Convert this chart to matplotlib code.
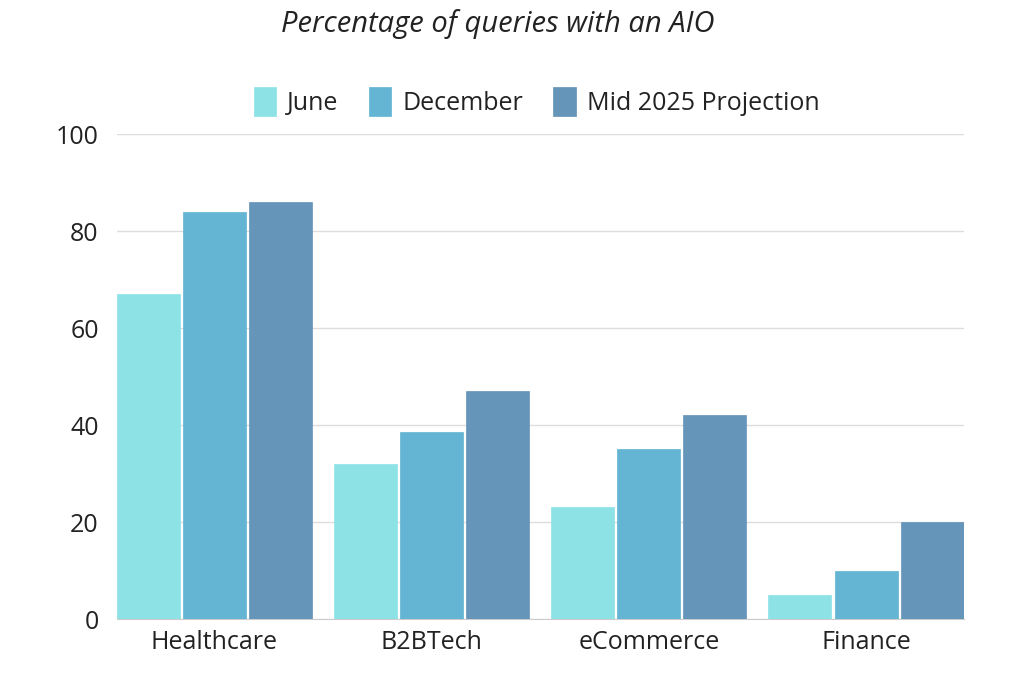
import matplotlib.pyplot as plt
import numpy as np

categories = ["Healthcare", "B2BTech", "eCommerce", "Finance"]
series_names = ["June", "December", "Mid 2025 Projection"]
june = [67, 32, 23, 5]
december = [84, 38.5, 35, 10]
mid_2025 = [86, 47, 42, 20]
yticks = [0, 20, 40, 60, 80, 100]

colors = ["#8de2e6", "#63b5d3", "#6595b8"]

plt.rcParams["font.family"] = ["Open Sans", "DejaVu Sans"]

fig = plt.figure(figsize=(10.24, 6.84), dpi=100)
ax = fig.add_axes([0.114, 0.095, 0.827, 0.709])

x = np.arange(len(categories))
width = 0.29
step = 0.304
for i, (name, vals) in enumerate(zip(series_names, [june, december, mid_2025])):
    ax.bar(x + (i - 1) * step, vals, width, color=colors[i], label=name,
           edgecolor=colors[i], linewidth=0.5, zorder=3)

ax.set_xlim(-0.449, 3.449)
ax.set_ylim(0, 100)
ax.set_yticks(yticks)
ax.set_xticks(x)
ax.set_xticklabels(categories)
ax.tick_params(axis="both", length=0, labelsize=18, colors="#222222")
ax.tick_params(axis="y", pad=13)
ax.tick_params(axis="x", pad=8)
ax.grid(axis="y", color="#dddddd", linewidth=1, zorder=0)
for s in ["top", "right", "left"]:
    ax.spines[s].set_visible(False)
ax.spines["bottom"].set_color("#cccccc")

fig.text(0.486, 0.965, "Percentage of queries with an AIO", ha="center",
         va="center", fontsize=21, style="italic", color="#222222")
fig.legend(loc="center", bbox_to_anchor=(0.524, 0.851), ncol=3, frameon=False,
           fontsize=18, handlelength=0.9, handleheight=1.4, columnspacing=1.2,
           handletextpad=0.45, labelcolor="#222222")

fig.savefig("out.png", dpi=100)
